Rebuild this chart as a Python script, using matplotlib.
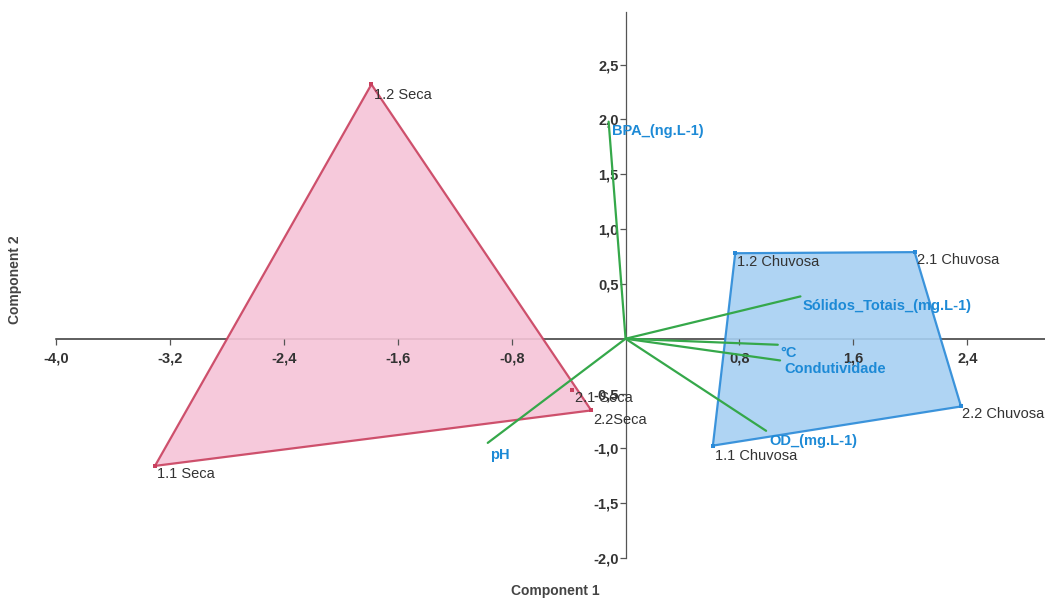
import numpy as np
import matplotlib
matplotlib.use("Agg")
import matplotlib.pyplot as plt
from matplotlib.ticker import FixedLocator, FuncFormatter
from matplotlib.patches import Polygon

plt.rcParams['font.family'] = ['Liberation Sans', 'DejaVu Sans']

# ---- data ----
sample_names = ["1.1 Seca", "1.2 Seca", "2.1 Seca", "2.2Seca",
                "1.1 Chuvosa", "1.2 Chuvosa", "2.1 Chuvosa", "2.2 Chuvosa"]
sample_group = ["Seca", "Seca", "Seca", "Seca",
                "Chuvosa", "Chuvosa", "Chuvosa", "Chuvosa"]
pc1 = [-3.305, -1.785, -0.379, -0.241, 0.613, 0.770, 2.030, 2.356]
pc2 = [-1.160, 2.320, -0.465, -0.654, -0.975, 0.780, 0.790, -0.618]

var_names = ["BPA_(ng.L-1)", "Sólidos_Totais_(mg.L-1)", "°C",
             "Condutividade", "OD_(mg.L-1)", "pH"]
load1 = [-0.119, 1.228, 1.069, 1.085, 0.987, -0.968]
load2 = [1.980, 0.386, -0.055, -0.198, -0.840, -0.950]

xticks = [-4.0, -3.2, -2.4, -1.6, -0.8, 0.8, 1.6, 2.4]
yticks = [-2.0, -1.5, -1.0, -0.5, 0.5, 1.0, 1.5, 2.0, 2.5]

# ---- styles ----
group_style = {
    "Seca": dict(face="#f6c4d7", edge="#c9405e"),
    "Chuvosa": dict(face="#a6d0f2", edge="#2a8ad8"),
}
sample_offsets = {  # label offsets in pixels
    "1.1 Seca": (2, -8), "1.2 Seca": (3, -11), "2.1 Seca": (3, -8),
    "2.2Seca": (2, -10), "1.1 Chuvosa": (2, -10), "1.2 Chuvosa": (2, -9),
    "2.1 Chuvosa": (2, -8), "2.2 Chuvosa": (1, -8),
}
var_offsets = {
    "BPA_(ng.L-1)": (3, -9), "Sólidos_Totais_(mg.L-1)": (2, -10),
    "°C": (3, -8), "Condutividade": (4, -9), "OD_(mg.L-1)": (3, -10),
    "pH": (2, -12),
}


def convex_hull(pts):
    pts = sorted(set(pts))
    if len(pts) <= 2:
        return pts

    def cross(o, a, b):
        return (a[0]-o[0])*(b[1]-o[1]) - (a[1]-o[1])*(b[0]-o[0])
    lower, upper = [], []
    for p in pts:
        while len(lower) >= 2 and cross(lower[-2], lower[-1], p) <= 0:
            lower.pop()
        lower.append(p)
    for p in reversed(pts):
        while len(upper) >= 2 and cross(upper[-2], upper[-1], p) <= 0:
            upper.pop()
        upper.append(p)
    return lower[:-1] + upper[:-1]


fig = plt.figure(figsize=(10.45, 5.98), dpi=100)
ax = fig.add_axes([0.0536, 0.0669, 0.947, 0.913])
ax.set_xlim(-4.0, 2.95)
ax.set_ylim(-2.0, 2.98)

# group hulls
for g, st in group_style.items():
    pts = [(x, y) for x, y, gg in zip(pc1, pc2, sample_group) if gg == g]
    hull = convex_hull(pts)
    poly = Polygon(hull, closed=True, facecolor=st["face"], edgecolor=st["edge"],
                   linewidth=1.6, alpha=0.9, zorder=1)
    ax.add_patch(poly)
    xs = [p[0] for p in pts]
    ys = [p[1] for p in pts]
    ax.scatter(xs, ys, s=10, marker='s', color=st["edge"], zorder=3, linewidths=0)

# sample labels
for name, x, y in zip(sample_names, pc1, pc2):
    dx, dy = sample_offsets[name]
    ax.annotate(name, (x, y), xytext=(dx, dy), textcoords='offset pixels',
                ha='left', va='center', fontsize=10.5, color="#333333", zorder=5)

# loadings
for name, x, y in zip(var_names, load1, load2):
    ax.plot([0, x], [0, y], color="#35a84a", linewidth=1.6, zorder=2,
            solid_capstyle='round')
    dx, dy = var_offsets[name]
    ax.annotate(name, (x, y), xytext=(dx, dy), textcoords='offset pixels',
                ha='left', va='center', fontsize=10.5, fontweight='bold',
                color="#1d8ad6", zorder=6)

# axes through origin
for s in ['top', 'right']:
    ax.spines[s].set_visible(False)
ax.spines['left'].set_position(('data', 0))
ax.spines['bottom'].set_position(('data', 0))
ax.spines['left'].set_color("#555555")
ax.spines['bottom'].set_color("#333333")
ax.spines['left'].set_linewidth(0.9)
ax.spines['bottom'].set_linewidth(1.1)
ax.spines['left'].set_zorder(0.5)
ax.spines['bottom'].set_zorder(0.5)

fmt = FuncFormatter(lambda v, p: f"{v:.1f}".replace('.', ','))
ax.xaxis.set_major_locator(FixedLocator(xticks))
ax.yaxis.set_major_locator(FixedLocator(yticks))
ax.xaxis.set_major_formatter(fmt)
ax.yaxis.set_major_formatter(fmt)
ax.tick_params(axis='both', direction='out', length=4, width=0.9,
               color="#555555", labelsize=10.5, labelcolor="#333333")
ax.tick_params(axis='x', pad=5)
ax.tick_params(axis='y', pad=1)
for lab in ax.get_xticklabels() + ax.get_yticklabels():
    lab.set_fontweight('bold')

fig.text(0.531, 0.011, "Component 1", ha='center', va='center',
         fontsize=10, fontweight='bold', color="#444444")
fig.text(0.014, 0.532, "Component 2", ha='center', va='center', rotation=90,
         fontsize=10, fontweight='bold', color="#444444")

fig.savefig("out.png", dpi=100)
